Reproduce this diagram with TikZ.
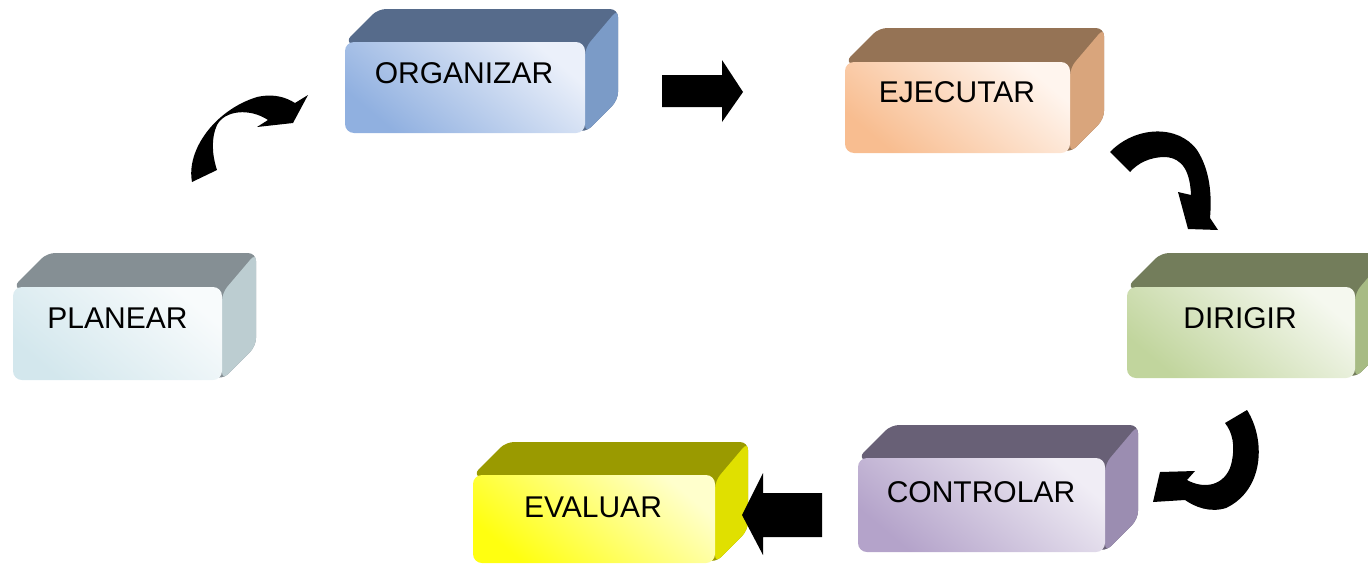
\documentclass[tikz,border=0pt]{standalone}
\usepackage{fontspec}
\setmainfont{Liberation Sans}
\definecolor{plTop}{HTML}{858F94}\definecolor{plSide}{HTML}{BCCDD1}\definecolor{plDark}{HTML}{D3E7ED}\definecolor{plLight}{HTML}{F8FBFC}
\definecolor{orTop}{HTML}{566B8B}\definecolor{orSide}{HTML}{7B9BC7}\definecolor{orDark}{HTML}{90B0E0}\definecolor{orLight}{HTML}{EBF0FA}
\definecolor{ejTop}{HTML}{957355}\definecolor{ejSide}{HTML}{D9A57C}\definecolor{ejDark}{HTML}{F8BD90}\definecolor{ejLight}{HTML}{FFF5EE}
\definecolor{diTop}{HTML}{737D5B}\definecolor{diSide}{HTML}{A7BB84}\definecolor{diDark}{HTML}{C1D59D}\definecolor{diLight}{HTML}{F5F8EF}
\definecolor{coTop}{HTML}{686076}\definecolor{coSide}{HTML}{9B8DB1}\definecolor{coDark}{HTML}{B4A3CA}\definecolor{coLight}{HTML}{F0EDF5}
\definecolor{evTop}{HTML}{9A9A00}\definecolor{evSide}{HTML}{E0E000}\definecolor{evDark}{HTML}{FFFF10}\definecolor{evLight}{HTML}{FFFFCC}
\newcommand\prismback[7]{%
  \fill[#6, rounded corners=8pt] (#1,#2) -- ({#1+#5},{#2-#5}) -- ({#3+#5},{#2-#5}) -- ({#3+#5},{#4-#5}) -- (#3,#4) -- cycle;
  \fill[#7, rounded corners=8pt] (#3,{#2+6}) -- ({#3+#5},{#2-#5}) -- ({#3+#5},{#4-#5}) -- (#3,#4) -- cycle;
}
\tikzset{
  lbl/.style={font=\fontsize{30}{36}\selectfont, anchor=base, inner sep=0pt},
  face/.style args={#1/#2}{rounded corners=9pt, inner sep=0pt, top color=#2, bottom color=#1, shading angle=-40},
  blockarrow/.style={fill=black}
}
\begin{document}
\begin{tikzpicture}[x=1pt,y=-1pt]
\useasboundingbox (0,0) rectangle (1368,565);
% PLANEAR
\prismback{13}{287}{222}{380}{34}{plTop}{plSide}
\node[face=plDark/plLight, minimum width=209pt, minimum height=93pt] (planF) at (117.5,333.5) {};
\node[lbl] (plan) at (117.5,328) {PLANEAR};
% ORGANIZAR
\prismback{345}{42}{585}{133}{33}{orTop}{orSide}
\node[face=orDark/orLight, minimum width=240pt, minimum height=91pt] (orgF) at (465,87.5) {};
\node[lbl] (org) at (464,83) {ORGANIZAR};
% EJECUTAR
\prismback{845}{62}{1070}{153}{34}{ejTop}{ejSide}
\node[face=ejDark/ejLight, minimum width=225pt, minimum height=91pt] (ejeF) at (957.5,107.5) {};
\node[lbl] (eje) at (957,102) {EJECUTAR};
% DIRIGIR
\prismback{1127}{287}{1355}{378}{34}{diTop}{diSide}
\node[face=diDark/diLight, minimum width=228pt, minimum height=91pt] (dirF) at (1241,332.5) {};
\node[lbl] (dir) at (1240,328) {DIRIGIR};
% CONTROLAR
\prismback{858}{458}{1105}{552}{33}{coTop}{coSide}
\node[face=coDark/coLight, minimum width=247pt, minimum height=94pt] (conF) at (981.5,505) {};
\node[lbl] (con) at (981,502) {CONTROLAR};
% EVALUAR
\prismback{473}{475}{715}{563}{33}{evTop}{evSide}
\node[face=evDark/evLight, minimum width=242pt, minimum height=88pt] (evaF) at (594,519) {};
\node[lbl] (eva) at (593,517) {EVALUAR};
% straight block arrows
\fill[blockarrow] (662,75) -- (722,75) -- (722,60) -- (743,92) -- (722,122) -- (722,107) -- (662,107) -- cycle;
\fill[blockarrow] (822,493) -- (763,493) -- (763,473) -- (742,515) -- (763,555) -- (763,537) -- (822,537) -- cycle;
% curved arrows
\fill[blockarrow] (192,182) .. controls (186,150) and (215,110) .. (257,97) .. controls (275,93) and (287,98) .. (295,103) -- (308,95) -- (293,123) -- (257,127) -- (268,120) .. controls (250,108) and (225,110) .. (217,125) .. controls (211,138) and (212,155) .. (217,170) -- cycle;
\fill[blockarrow] (1110,152) .. controls (1135,126) and (1178,124) .. (1197,150) .. controls (1210,170) and (1212,195) .. (1210,218) -- (1218,230) -- (1188,229) -- (1178,192) -- (1191,195) .. controls (1190,172) and (1183,158) .. (1165,157) .. controls (1150,157) and (1138,163) .. (1130,172) -- cycle;
\fill[blockarrow] (1247,410) .. controls (1266,440) and (1264,490) .. (1226,508) .. controls (1210,513) and (1195,507) .. (1185,500) -- (1153,502) -- (1160,472) -- (1195,471) -- (1187,480) .. controls (1205,490) and (1225,485) .. (1231,465) .. controls (1236,445) and (1232,432) .. (1225,423) -- cycle;
\end{tikzpicture}
\end{document}
